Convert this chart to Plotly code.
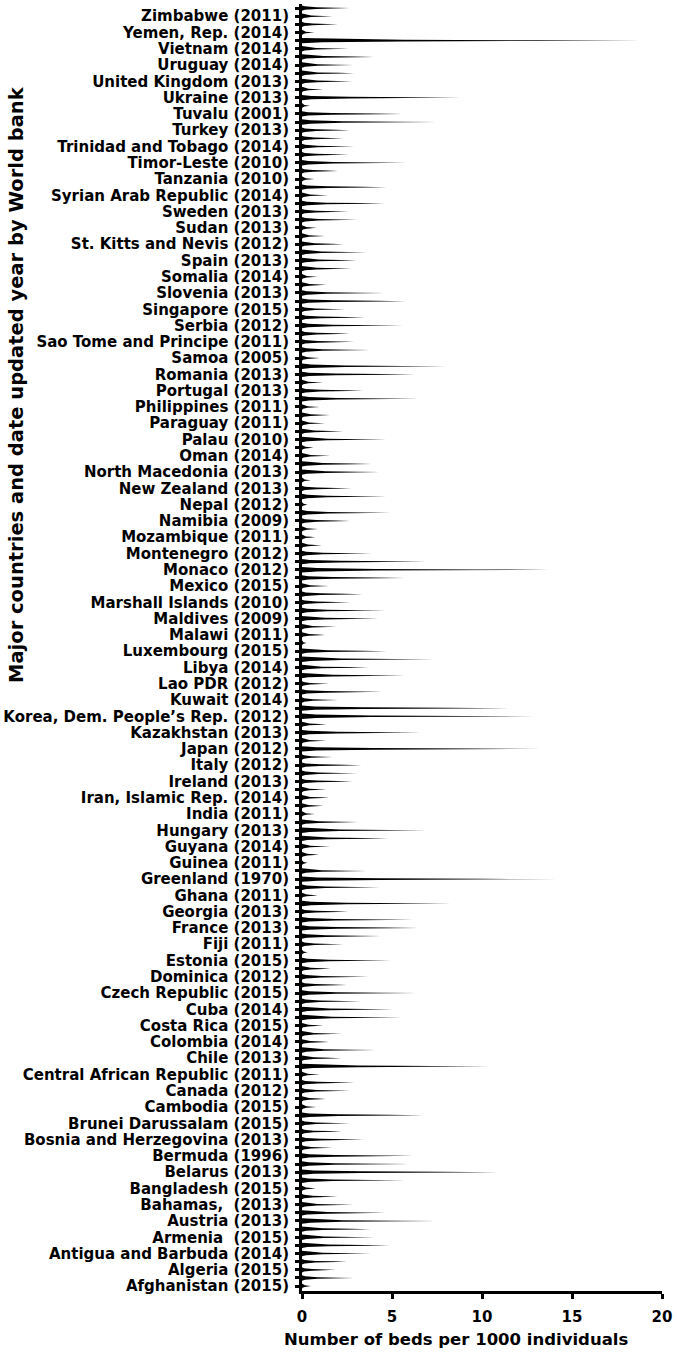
import plotly.graph_objects as go

# Countries (labelled spikes), alphabetical, bottom to top
countries = [
    "Afghanistan (2015)", "Algeria (2015)", "Antigua and Barbuda (2014)", "Armenia\u00a0 (2015)",
    "Austria (2013)", "Bahamas,\u00a0 (2013)", "Bangladesh (2015)", "Belarus (2013)", "Bermuda (1996)",
    "Bosnia and Herzegovina (2013)", "Brunei Darussalam (2015)", "Cambodia (2015)", "Canada (2012)",
    "Central African Republic (2011)", "Chile (2013)", "Colombia (2014)", "Costa Rica (2015)",
    "Cuba (2014)", "Czech Republic (2015)", "Dominica (2012)", "Estonia (2015)", "Fiji (2011)",
    "France (2013)", "Georgia (2013)", "Ghana (2011)", "Greenland (1970)", "Guinea (2011)",
    "Guyana (2014)", "Hungary (2013)", "India (2011)", "Iran, Islamic Rep. (2014)", "Ireland (2013)",
    "Italy (2012)", "Japan (2012)", "Kazakhstan (2013)", "Korea, Dem. People\u2019s Rep. (2012)",
    "Kuwait (2014)", "Lao PDR (2012)", "Libya (2014)", "Luxembourg (2015)", "Malawi (2011)",
    "Maldives (2009)", "Marshall Islands (2010)", "Mexico (2015)", "Monaco (2012)", "Montenegro (2012)",
    "Mozambique (2011)", "Namibia (2009)", "Nepal (2012)", "New Zealand (2013)", "North Macedonia (2013)",
    "Oman (2014)", "Palau (2010)", "Paraguay (2011)", "Philippines (2011)", "Portugal (2013)",
    "Romania (2013)", "Samoa (2005)", "Sao Tome and Principe (2011)", "Serbia (2012)", "Singapore (2015)",
    "Slovenia (2013)", "Somalia (2014)", "Spain (2013)", "St. Kitts and Nevis (2012)", "Sudan (2013)",
    "Sweden (2013)", "Syrian Arab Republic (2014)", "Tanzania (2010)", "Timor-Leste (2010)",
    "Trinidad and Tobago (2014)", "Turkey (2013)", "Tuvalu (2001)", "Ukraine (2013)",
    "United Kingdom (2013)", "Uruguay (2014)", "Vietnam (2014)", "Yemen, Rep. (2014)", "Zimbabwe (2011)",
]

# Beds per 1000 for the labelled spikes (same order as countries)
labeled_values = [
    0.5, 1.87, 3.83, 4.06, 7.48, 2.85, 0.76, 10.9, 6.19, 3.46,
    2.67, 0.81, 2.67, 1.0, 2.17, 1.5, 1.19, 5.07, 6.37, 3.7,
    4.94, 2.3, 6.46, 2.57, 0.87, 14.3, 0.31, 1.56, 6.93, 0.72,
    1.5, 2.8, 3.3, 13.3, 6.56, 12.9, 2.0, 1.5, 3.7, 4.7,
    1.28, 4.24, 2.67, 1.5, 13.7, 3.87, 0.72, 2.67, 0.3, 2.76,
    4.33, 1.56, 4.7, 1.28, 1.0, 3.4, 6.28, 1.0, 2.9, 5.63,
    2.39, 4.57, 0.87, 3.04, 2.3, 0.81, 2.57, 1.45, 0.7, 5.8,
    2.9, 2.67, 5.6, 8.8, 2.8, 2.85, 2.6, 0.7, 1.7,
]

# Beds per 1000 for the unlabelled spike drawn just above each labelled one
unlabeled_values = [
    2.9, 2.48, 4.89, 3.83, 4.65, 1.98, 5.7, 6.0, 1.69, 2.2,
    6.74, 1.31, 2.94, 10.4, 4.1, 2.2, 5.54, 3.3, 2.48, 1.6,
    0.31, 4.39, 6.2, 8.3, 4.33, 3.6, 0.94, 4.8, 3.13, 1.19,
    1.37, 3.04, 1.69, 1.37, 1.37, 11.5, 4.43, 5.7, 7.3, 0.26,
    1.9, 4.67, 3.37, 5.7, 6.9, 1.1, 0.9, 4.9, 4.7, 0.5,
    3.87, 0.63, 2.3, 1.56, 6.46, 1.19, 8.04, 3.78, 2.67, 3.5,
    5.8, 1.37, 2.76, 3.6, 1.28, 3.04, 4.6, 4.7, 2.0, 2.6,
    2.3, 7.5, 0.45, 1.2, 2.9, 4.0, 18.8, 2.0, 2.67,
]

x_ticks = [0, 5, 10, 15, 20]

# positions: labelled spike k at 2k, unlabelled at 2k+1
positions, values = [], []
for k in range(len(countries)):
    positions += [2 * k, 2 * k + 1]
    values += [labeled_values[k], unlabeled_values[k]]

# tapered spike outline (fractions of value, half-widths in category units)
prof = [(0.0, 0.33), (0.06, 0.21), (0.3, 0.1), (0.7, 0.04), (1.0, 0.0)]
xs, ys = [], []
for c, v in zip(positions, values):
    for f, h in prof:
        xs.append(f * v); ys.append(c - h)
    for f, h in reversed(prof[:-1]):
        xs.append(f * v); ys.append(c + h)
    xs.append(None); ys.append(None)

fig = go.Figure()
fig.add_trace(go.Scatter(x=xs, y=ys, mode="lines", fill="toself",
                         fillcolor="black", line=dict(width=0, color="black"),
                         hoverinfo="skip", showlegend=False))

tickvals = positions
ticktext = []
for k in range(len(countries)):
    ticktext += [countries[k], ""]

font_family = "DejaVu Sans"
fig.update_layout(
    width=677, height=1357,
    margin=dict(l=302, r=15, t=4, b=66),
    paper_bgcolor="white", plot_bgcolor="white",
    xaxis=dict(range=[0, 20], tickvals=x_ticks, ticks="outside", ticklen=5, tickwidth=3,
               tickcolor="black", showline=True, linewidth=3, linecolor="black",
               showgrid=False, zeroline=False, ticklabelstandoff=5,
               tickfont=dict(family=font_family, size=15, color="black", weight="bold")),
    yaxis=dict(range=[-0.6, 157.5], tickvals=tickvals, ticktext=ticktext, ticks="outside",
               ticklen=4, tickwidth=3, tickcolor="black", showline=True, linewidth=3,
               linecolor="black", showgrid=False, zeroline=False, ticklabelstandoff=3,
               tickfont=dict(family=font_family, size=15, color="black", weight="bold")),
    annotations=[
        dict(text="Number of beds per 1000 individuals", xref="paper", yref="paper",
             x=(456 - 302) / 360, y=(1291 - 1339) / 1287, xanchor="center", yanchor="middle",
             showarrow=False, font=dict(family=font_family, size=16.5, color="black", weight="bold")),
        dict(text="Major countries and date updated year by World bank", xref="paper", yref="paper",
             x=(17 - 302) / 360, y=(1291 - 385) / 1287, xanchor="center", yanchor="middle",
             textangle=-90, showarrow=False,
             font=dict(family=font_family, size=19.5, color="black", weight="bold")),
    ],
)

fig.write_html("out.html", config={"displayModeBar": False},
               post_script="document.body.style.margin='0';")
